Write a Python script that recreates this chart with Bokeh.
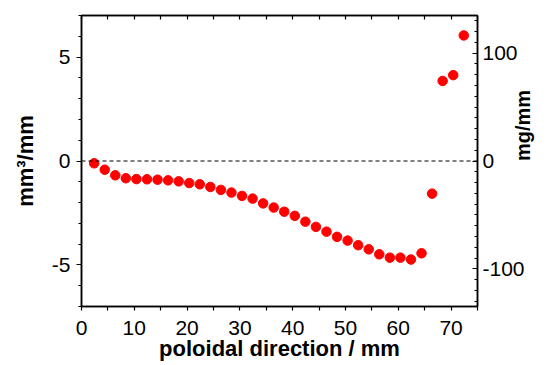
import math
from bokeh.plotting import figure
from bokeh.models import (LinearAxis, Range1d, Span, FixedTicker,
                          SingleIntervalTicker, CustomJSTickFormatter)
from bokeh.embed import file_html
from bokeh.resources import INLINE

# data
x_mm = [2.4 + 2 * k for k in range(36)]
vol_mm3 = [-0.11, -0.42, -0.69, -0.83, -0.87, -0.88, -0.90, -0.93, -0.98, -1.06,
           -1.12, -1.25, -1.39, -1.52, -1.68, -1.81, -2.04, -2.24, -2.44, -2.64,
           -2.92, -3.17, -3.40, -3.65, -3.83, -4.05, -4.25, -4.49, -4.65, -4.65,
           -4.74, -4.44, -1.57, 3.85, 4.13, 6.04]
density = 19.25  # mg/mm^3 (right axis scale)

x_ticks = [0, 10, 20, 30, 40, 50, 60, 70]
x_minor = [5, 15, 25, 35, 45, 55, 65, 75]

FONT = "Liberation Sans"
plain = CustomJSTickFormatter(code="return tick.toString();")

p = figure(width=549, height=365, output_backend="svg", toolbar_location=None,
           x_range=Range1d(0, 75), y_range=Range1d(-7, 7),
           min_border_left=81, min_border_right=72, min_border_top=15, min_border_bottom=59)
p.extra_y_ranges = {"right": Range1d(-7 * density, 7 * density)}
p.xgrid.visible = False
p.ygrid.visible = False
p.outline_line_color = "black"
p.outline_line_width = 1.5
p.background_fill_color = "white"
p.border_fill_color = "white"

p.add_layout(Span(location=0, dimension="width", line_color="black",
                  line_dash="4 3", line_width=1))

p.scatter(x_mm, vol_mm3, size=9.5, color="red", line_color="red")

def style(ax, tin=0, tout=0, mtin=0, mtout=0):
    ax.axis_line_color = "black"
    ax.axis_line_width = 1.5
    ax.major_tick_in = tin
    ax.major_tick_out = tout
    ax.minor_tick_in = mtin
    ax.minor_tick_out = mtout
    ax.major_tick_line_width = 1.2
    ax.minor_tick_line_width = 1.2
    ax.major_label_text_font = FONT
    ax.major_label_text_font_size = "21px"
    ax.major_label_text_color = "black"
    ax.axis_label_text_font = FONT
    ax.axis_label_text_font_size = "22px"
    ax.axis_label_text_font_style = "bold"
    ax.axis_label_text_color = "black"

xa = p.xaxis[0]
xa.ticker = FixedTicker(ticks=x_ticks, minor_ticks=x_minor)
xa.formatter = plain
xa.axis_label = "poloidal direction / mm"
style(xa, tout=4, mtout=4)
xa.major_label_standoff = 10
xa.axis_label_standoff = -2

ya = p.yaxis[0]
ya.ticker = SingleIntervalTicker(interval=5, num_minor_ticks=5)
ya.formatter = plain
ya.axis_label = "mm³/mm"
style(ya, tout=5, mtout=3)
ya.major_label_standoff = 6
ya.axis_label_standoff = 11

yr = LinearAxis(y_range_name="right", axis_label="mg/mm")
yr.ticker = SingleIntervalTicker(interval=100, num_minor_ticks=10)
yr.formatter = plain
style(yr, tin=5, mtin=3)
yr.axis_label_text_font_size = "20px"
yr.major_label_standoff = 5
yr.axis_label_standoff = -5
yr.axis_label_orientation = math.pi / 2
p.add_layout(yr, "right")

xt = LinearAxis()
xt.ticker = FixedTicker(ticks=x_ticks, minor_ticks=x_minor)
xt.formatter = CustomJSTickFormatter(code="return '';")
style(xt, tin=4, mtin=4)
xt.major_label_standoff = 0
p.add_layout(xt, "above")

open("out.html", "w").write(file_html(p, INLINE))
